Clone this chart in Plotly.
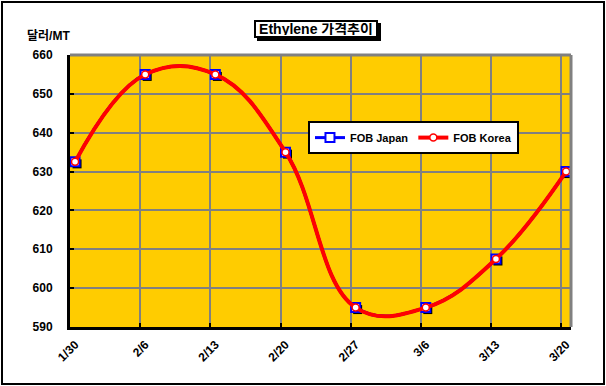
import plotly.graph_objects as go

# ---- data ----
dates = ["1/30", "2/6", "2/13", "2/20", "2/27", "3/6", "3/13", "3/20"]
fob_japan = [632.5, 655, 655, 635, 595, 595, 607.5, 630]
fob_korea = [632.5, 655, 655, 635, 595, 595, 607.5, 630]
y_ticks = [590, 600, 610, 620, 630, 640, 650, 660]

xpos = list(range(len(dates)))

FONT = "Arial, 'Liberation Sans', 'Noto Sans CJK KR', sans-serif"

W, H = 606, 386
L, R, T, B = 70, 35, 55, 59
pw, ph = W - L - R, H - T - B

xr = [-0.072, len(dates) - 1 + 0.07]
yr = [590, 660]
grid_off = -0.07
xpx = pw / (xr[1] - xr[0])
ypx = ph / (yr[1] - yr[0])
sh = 2  # shadow offset (px)
SMOOTH = 1.15

fig = go.Figure()

# Japan line on the main axes (hidden under the Korea line, as in the source)
fig.add_trace(go.Scatter(
    x=xpos, y=fob_japan, mode="lines", xaxis="x", yaxis="y",
    line=dict(color="#0000FF", width=3, shape="spline", smoothing=SMOOTH),
    showlegend=False, hoverinfo="skip"))

# shadow of Japan markers (drawn on a shifted overlay axis)
fig.add_trace(go.Scatter(
    x=xpos, y=fob_japan, mode="markers", xaxis="x2", yaxis="y2",
    marker=dict(symbol="square", size=9, color="black", line=dict(width=0)),
    showlegend=False, hoverinfo="skip"))

fig.add_trace(go.Scatter(
    x=xpos, y=fob_japan, name="FOB Japan", mode="lines+markers",
    xaxis="x3", yaxis="y3",
    line=dict(color="#0000FF", width=3, shape="spline", smoothing=SMOOTH),
    marker=dict(symbol="square", size=9, color="white",
                line=dict(color="#0000FF", width=2))))

fig.add_trace(go.Scatter(
    x=xpos, y=fob_korea, name="FOB Korea", mode="lines+markers",
    xaxis="x3", yaxis="y3",
    line=dict(color="#FF0000", width=4, shape="spline", smoothing=SMOOTH),
    marker=dict(symbol="circle", size=7, color="white",
                line=dict(color="#FF0000", width=1.5))))

fig.update_layout(
    width=W, height=H, autosize=False,
    margin=dict(l=L, r=R, t=T, b=B, autoexpand=False),
    paper_bgcolor="white", plot_bgcolor="#FFCC00",
    font=dict(family=FONT, size=12, color="black"),
    showlegend=True,
    legend=dict(orientation="h", x=0.475, y=0.757, xanchor="left", yanchor="top",
                bgcolor="white", bordercolor="black", borderwidth=2,
                font=dict(family=FONT, size=11, color="black", weight="bold")),
    xaxis=dict(range=xr, tickmode="array",
               tickvals=[p + grid_off for p in xpos], ticktext=dates,
               tickangle=-45, tickfont=dict(size=12, weight="bold"),
               ticklabelshift=5, ticklabelstandoff=3,
               showgrid=True, gridcolor="#808080", gridwidth=2,
               showline=True, linecolor="black", linewidth=3,
               ticks="inside", ticklen=4, tickwidth=2, tickcolor="black",
               zeroline=False, fixedrange=True),
    yaxis=dict(range=yr, tickmode="array", tickvals=y_ticks,
               tickfont=dict(size=12, weight="bold"),
               showgrid=True, gridcolor="#808080", gridwidth=2,
               showline=True, linecolor="black", linewidth=3,
               ticks="inside", ticklen=4, tickwidth=2, tickcolor="black",
               ticklabelstandoff=12,
               zeroline=False, fixedrange=True),
    xaxis2=dict(overlaying="x", range=[xr[0] - sh / xpx, xr[1] - sh / xpx],
                visible=False, fixedrange=True),
    yaxis2=dict(overlaying="y", range=[yr[0] + sh / ypx, yr[1] + sh / ypx],
                visible=False, fixedrange=True),
    xaxis3=dict(overlaying="x", range=xr, visible=False, fixedrange=True),
    yaxis3=dict(overlaying="y", range=yr, visible=False, fixedrange=True),
)

def px_x(p):
    return (p - L) / pw

def px_y(p):
    return (H - B - p) / ph

shapes = [
    # top and right plot border (gray)
    dict(type="line", xref="paper", yref="paper", x0=0, x1=1, y0=1, y1=1,
         line=dict(color="#808080", width=3), layer="above"),
    dict(type="line", xref="paper", yref="paper", x0=1, x1=1, y0=0, y1=1,
         line=dict(color="#808080", width=3), layer="above"),
    # outer chart border
    dict(type="rect", xref="paper", yref="paper",
         x0=px_x(2), x1=px_x(604), y0=px_y(384), y1=px_y(2),
         line=dict(color="black", width=2), fillcolor="rgba(0,0,0,0)"),
    # title box shadow
    dict(type="rect", xref="paper", yref="paper",
         x0=px_x(257), x1=px_x(381), y0=px_y(41), y1=px_y(23),
         line=dict(color="black", width=0), fillcolor="black"),
]
fig.update_layout(shapes=shapes)

title_text = "Ethylene 가격추이"
fig.add_annotation(text=title_text, xref="paper", yref="paper",
                   x=px_x(316), y=px_y(29),
                   xanchor="center", yanchor="middle", showarrow=False,
                   width=118, height=12,
                   font=dict(family=FONT, size=14, color="black", weight="bold"),
                   bgcolor="white", bordercolor="black", borderwidth=2, borderpad=1)
fig.add_annotation(text="달러/MT", xref="paper", yref="paper",
                   x=px_x(48.5), y=px_y(36), xanchor="center", yanchor="middle",
                   showarrow=False,
                   font=dict(family=FONT, size=12, color="black", weight="bold"))

fig.write_html("out.html", config={"displayModeBar": False},
               post_script="document.body.style.margin='0';document.body.style.padding='0';")
